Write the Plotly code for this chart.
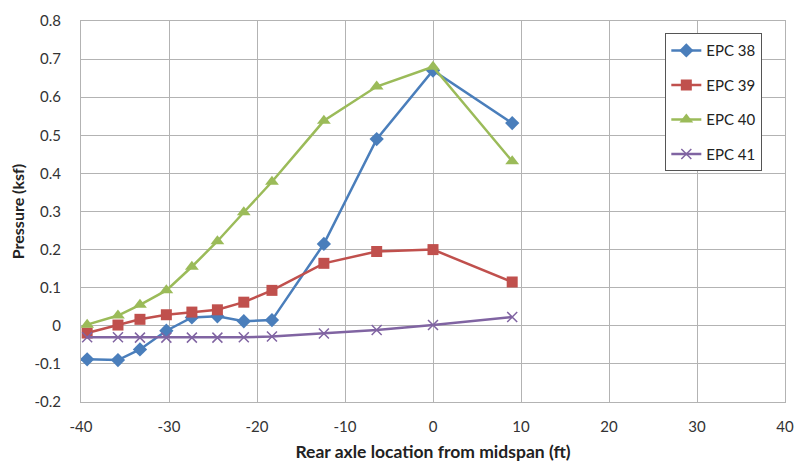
import plotly.graph_objects as go

x_ft = [-39.3, -35.8, -33.3, -30.3, -27.4, -24.5, -21.5, -18.3, -12.4, -6.4, 0, 9]
epc38 = [-0.088, -0.090, -0.062, -0.013, 0.022, 0.025, 0.012, 0.015, 0.215, 0.490, 0.670, 0.532]
epc39 = [-0.019, 0.002, 0.017, 0.029, 0.036, 0.042, 0.062, 0.093, 0.164, 0.195, 0.200, 0.115]
epc40 = [0.003, 0.027, 0.055, 0.093, 0.155, 0.222, 0.298, 0.378, 0.538, 0.628, 0.680, 0.432]
epc41 = [-0.030, -0.030, -0.031, -0.031, -0.031, -0.031, -0.030, -0.028, -0.020, -0.011, 0.002, 0.023]

x_ticks = [-40, -30, -20, -10, 0, 10, 20, 30, 40]
x_ticklabels = ["-40", "-30", "-20", "-10", "0", "10", "20", "30", "40"]
y_ticks = [-0.2, -0.1, 0, 0.1, 0.2, 0.3, 0.4, 0.5, 0.6, 0.7, 0.8]
y_ticklabels = ["-0.2", "-0.1", "0", "0.1", "0.2", "0.3", "0.4", "0.5", "0.6", "0.7", "0.8"]

series = [
    ("EPC 38", epc38, "#4A7EBB", "diamond", 11),
    ("EPC 39", epc39, "#C0504D", "square", 11),
    ("EPC 40", epc40, "#9BBB59", "triangle-up", 12),
    ("EPC 41", epc41, "#8064A2", "x-thin", 10),
]

fig = go.Figure()
for i, (name, vals, col, sym, sz) in enumerate(series):
    marker = dict(symbol=sym, size=sz, color=col)
    if sym == "x-thin":
        marker["line"] = dict(color=col, width=1.5)
    fig.add_trace(go.Scatter(
        x=x_ft, y=vals, name=name, mode="lines+markers",
        line=dict(color=col, width=2.5), marker=marker,
        legendgroup=f"g{i}",
    ))

font = "Lato, Open Sans, sans-serif"
fig.update_layout(
    width=805, height=469,
    margin=dict(l=81, r=12, t=11, b=66),
    paper_bgcolor="white", plot_bgcolor="white",
    font=dict(family=font, size=15, color="#333333"),
    xaxis=dict(
        range=[-40, 40], tickvals=x_ticks, ticktext=x_ticklabels,
        showgrid=True, gridcolor="#b3b3b3", gridwidth=1,
        showline=True, linecolor="#b3b3b3", linewidth=1, mirror=True,
        zeroline=False, ticks="outside", ticklen=11, tickcolor="rgba(0,0,0,0)",
        tickfont=dict(size=15, color="#333333"),
        title=dict(text="<b>Rear axle location from midspan (ft)</b>", font=dict(size=17.5, color="#222222"), standoff=11),
    ),
    yaxis=dict(
        range=[-0.2, 0.8], tickvals=y_ticks, ticktext=y_ticklabels,
        showgrid=True, gridcolor="#b3b3b3", gridwidth=1,
        showline=True, linecolor="#b3b3b3", linewidth=1, mirror=True,
        zeroline=False, ticks="outside", ticklen=16, tickcolor="rgba(0,0,0,0)",
        tickfont=dict(size=15, color="#333333"),
        title=dict(text="<b>Pressure (ksf)</b>", font=dict(size=16, color="#222222"), standoff=5),
    ),
    legend=dict(
        x=0.83, y=0.968, xanchor="left", yanchor="top",
        bordercolor="#555555", borderwidth=1, bgcolor="white",
        font=dict(size=15, color="#222222"),
        tracegroupgap=12, itemwidth=30,
    ),
    showlegend=True,
)

fig.write_html("out.html")
